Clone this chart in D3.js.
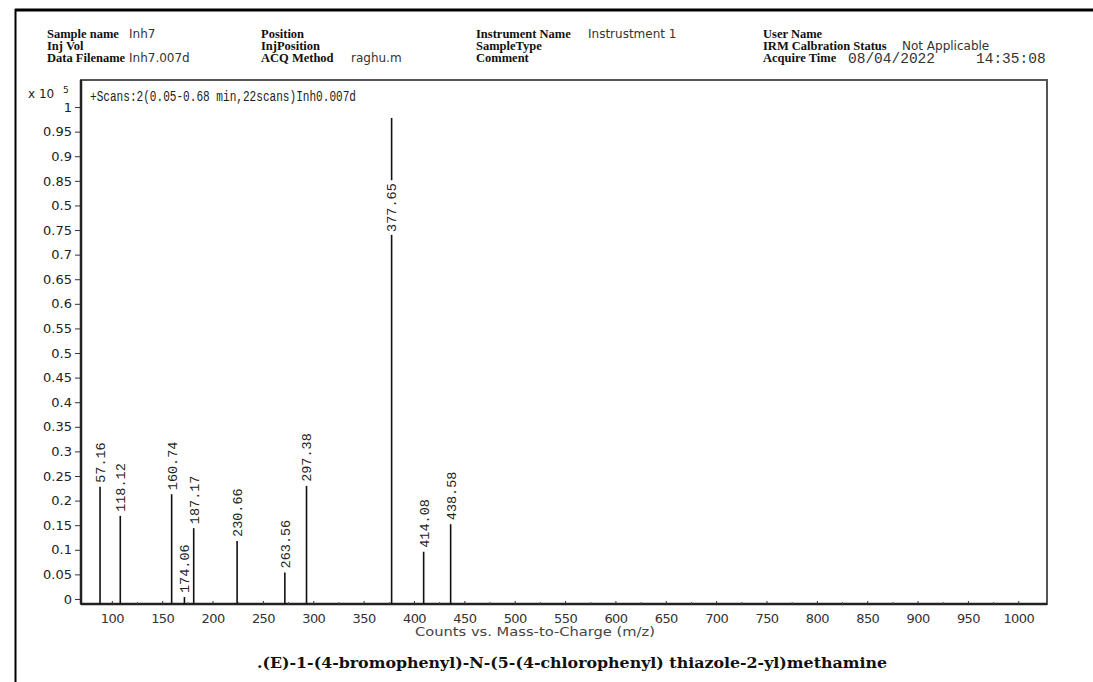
<!DOCTYPE html>
<html><head><meta charset="utf-8">
<script src="https://cdn.jsdelivr.net/npm/d3@7"></script>
<style>body{margin:0;background:#fff;} svg{display:block}</style>
</head><body><svg id="c" width="1093" height="682"></svg>
<script>
// ---- data ----
const peakMz        = [88.3, 108.4, 159.4, 172.1, 181.3, 224.4, 271.8, 293.3, 377.8, 409.6, 436.4];
const peakIntensity = [0.228, 0.169, 0.213, 0.004, 0.144, 0.118, 0.054, 0.230, 0.978, 0.096, 0.152];
const peakLabels    = ["57.16","118.12","160.74","174.06","187.17","230.66","263.56","297.38","377.65","414.08","438.58"];
const yTickValues = [0,0.05,0.1,0.15,0.2,0.25,0.3,0.35,0.4,0.45,0.5,0.55,0.6,0.65,0.7,0.75,0.8,0.85,0.9,0.95,1];
const yTickLabels = ["0","0.05","0.1","0.15","0.2","0.25","0.3","0.35","0.4","0.45","0.5","0.55","0.6","0.65","0.7","0.75","0.5","0.85","0.9","0.95","1"];
const xTickValues = [100,150,200,250,300,350,400,450,500,550,600,650,700,750,800,850,900,950,1000];
const xTickLabels = ["100","150","200","250","300","350","400","450","500","550","600","650","700","750","800","850","900","950","1000"];
const xMinorTicks = [125,175,225,275,325,375,425,475,525,575,625,675,725,775,825,875,925,975];
const col1Labels = ["Sample name","Inj Vol","Data Filename"];
const col1Values = ["Inh7","","Inh7.007d"];
const col2Labels = ["Position","InjPosition","ACQ Method"];
const col2Values = ["","","raghu.m"];
const col3Labels = ["Instrument Name","SampleType","Comment"];
const col3Values = ["Instrustment 1","",""];
const col4Labels = ["User Name","IRM Calbration Status","Acquire Time"];
const col4Values = ["","Not Applicable",""];
const acquireDate = "08/04/2022";
const acquireClock = "14:35:08";
const scanTitle = "+Scans:2(0.05-0.68 min,22scans)Inh0.007d";
const yExponentLabel = "x 10";
const yExponent = "5";
const xAxisTitle = "Counts vs. Mass-to-Charge (m/z)";
const caption = ".(E)-1-(4-bromophenyl)-N-(5-(4-chlorophenyl) thiazole-2-yl)methamine";

// ---- layout ----
const svg = d3.select("#c");
const L = 81, R = 1047, T = 80, B = 604;
const x = d3.scaleLinear().domain([69.4, 1028.5]).range([L, R]);
const y = d3.scaleLinear().domain([-0.0102, 1.055]).range([B, T]);

// outer border
svg.append("line").attr("x1",15).attr("x2",1093).attr("y1",10).attr("y2",10).attr("stroke","#000").attr("stroke-width",3);
svg.append("line").attr("x1",15.5).attr("x2",15.5).attr("y1",9).attr("y2",682).attr("stroke","#000").attr("stroke-width",2);

// header
const rowsY = [38, 50, 62];
const labFont = "'Liberation Serif', serif";
const valFont = "'DejaVu Sans', sans-serif";
function column(labels, values, lx, vx){
  labels.forEach((t,i)=>{
    svg.append("text").attr("x",lx).attr("y",rowsY[i]).text(t)
      .attr("font-family",labFont).attr("font-weight","bold").attr("font-size",12.5).attr("fill","#111");
    if (values[i]) svg.append("text").attr("x",vx).attr("y",rowsY[i]).text(values[i])
      .attr("font-family",valFont).attr("font-size",12).attr("fill","#333");
  });
}
column(col1Labels, col1Values, 47, 129);
column(col2Labels, col2Values, 261, 351);
column(col3Labels, col3Values, 476, 588);
column(col4Labels, col4Values, 763, 902);
svg.append("text").attr("x",848).attr("y",rowsY[2]+1).text(acquireDate)
  .attr("font-family","'Liberation Mono', monospace").attr("font-size",14.5).attr("fill","#333");
svg.append("text").attr("x",976).attr("y",rowsY[2]+1).text(acquireClock)
  .attr("font-family","'Liberation Mono', monospace").attr("font-size",14.5).attr("fill","#333");

// frame
svg.append("rect").attr("x",L).attr("y",T).attr("width",R-L).attr("height",B-T)
  .attr("fill","none").attr("stroke","#555").attr("stroke-width",2);
svg.append("line").attr("x1",L).attr("x2",L).attr("y1",T).attr("y2",B).attr("stroke","#222").attr("stroke-width",2.5);
svg.append("line").attr("x1",L).attr("x2",R).attr("y1",B).attr("y2",B).attr("stroke","#222").attr("stroke-width",2.5);

// y axis
const yAxis = d3.axisLeft(y).tickValues(yTickValues).tickFormat((d,i)=>yTickLabels[i]).tickSizeInner(5).tickSizeOuter(0).tickPadding(3);
const gy = svg.append("g").attr("transform",`translate(${L-1},0)`).call(yAxis);
gy.select(".domain").remove();
gy.selectAll("line").attr("stroke","#333");
gy.selectAll("text").attr("font-family","'DejaVu Sans', sans-serif").attr("font-size",13).attr("fill","#222");

svg.append("text").attr("x",28).attr("y",98).text(yExponentLabel)
  .attr("font-family","'DejaVu Sans', sans-serif").attr("font-size",12).attr("fill","#222");
svg.append("text").attr("x",63).attr("y",93).text(yExponent)
  .attr("font-family","'DejaVu Sans', sans-serif").attr("font-size",9).attr("fill","#222");

// x axis
const xAxis = d3.axisBottom(x).tickValues(xTickValues).tickFormat((d,i)=>xTickLabels[i]).tickSizeInner(-3).tickSizeOuter(0).tickPadding(10);
const gx = svg.append("g").attr("transform",`translate(0,${B})`).call(xAxis);
gx.select(".domain").remove();
gx.selectAll("line").attr("stroke","#333");
gx.selectAll("text").attr("font-family","'DejaVu Sans', sans-serif").attr("font-size",13).attr("fill","#333").attr("letter-spacing","-0.6");
const gxm = svg.append("g").attr("transform",`translate(0,${B})`)
  .call(d3.axisBottom(x).tickValues(xMinorTicks).tickFormat("").tickSizeInner(-2).tickSizeOuter(0));
gxm.select(".domain").remove();
gxm.selectAll("line").attr("stroke","#555");

svg.append("text").attr("x",535).attr("y",636).attr("text-anchor","middle").text(xAxisTitle)
  .attr("font-family","'DejaVu Sans', sans-serif").attr("font-size",11.5).attr("fill","#444")
  .attr("textLength",240).attr("lengthAdjust","spacingAndGlyphs");

// scan title
svg.append("text").attr("x",90).attr("y",101).text(scanTitle)
  .attr("font-family","'Liberation Mono', monospace").attr("font-size",14).attr("fill","#222")
  .attr("textLength",266).attr("lengthAdjust","spacingAndGlyphs");

// peaks
const peaks = peakMz.map((m,i)=>({m, v:peakIntensity[i], lab:peakLabels[i]}));
svg.append("g").selectAll("line").data(peaks).join("line")
  .attr("x1",d=>x(d.m)).attr("x2",d=>x(d.m))
  .attr("y1",y(y.domain()[0])).attr("y2",d=>y(d.v))
  .attr("stroke","#111").attr("stroke-width",1.6);

const labFs = 13.5, labLen = d=>d.lab.length*labFs*0.6;
const lg = svg.append("g");
peaks.forEach(d=>{
  const px = x(d.m);
  let bottom = y(d.v) - 4;
  const inside = bottom - labLen(d) < T + 30;
  if (inside) bottom = y(d.v) + 114;
  const g = lg.append("g").attr("transform",`translate(${px},${bottom}) rotate(-90)`);
  if (inside) g.append("rect").attr("x",-3).attr("y",-8).attr("width",labLen(d)+6).attr("height",16).attr("fill","#fff");
  g.append("text").attr("x",0).attr("y",0).attr("dy","0.36em").text(d.lab)
    .attr("font-family","'Liberation Mono', monospace").attr("font-size",labFs).attr("fill","#222");
});

// caption
svg.append("text").attr("x",572).attr("y",668).attr("text-anchor","middle").text(caption)
  .attr("font-family","'DejaVu Serif', serif").attr("font-weight","bold").attr("font-size",15).attr("fill","#111")
  .attr("textLength",630).attr("lengthAdjust","spacingAndGlyphs");
</script></body></html>
